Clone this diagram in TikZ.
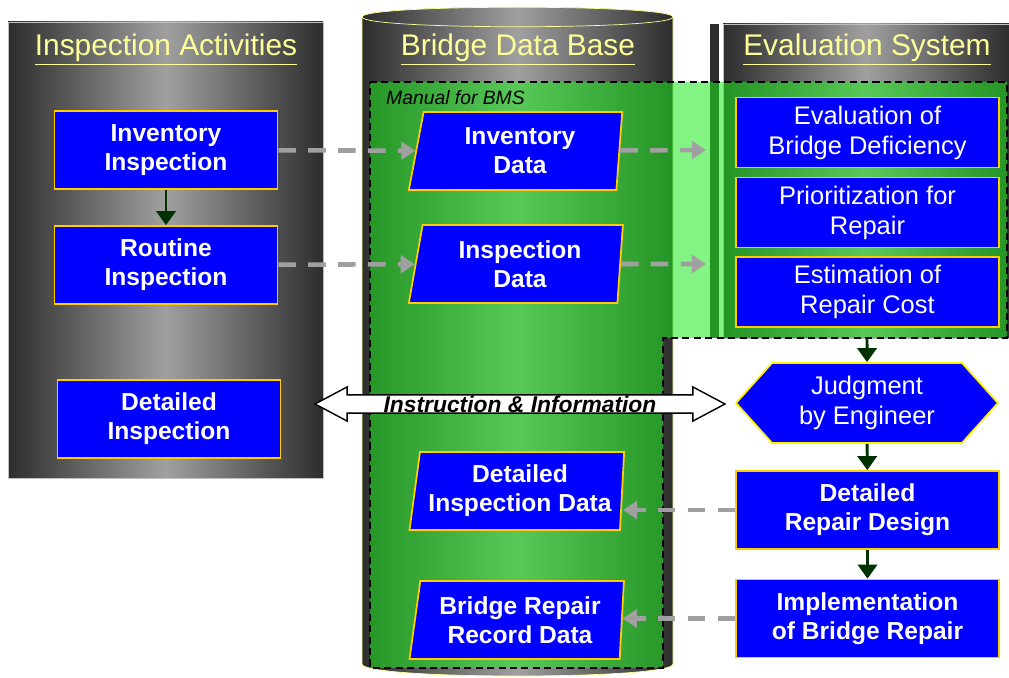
\documentclass[tikz,border=0pt]{standalone}
\usepackage{fontspec}
\setmainfont{Liberation Sans}
\usepackage{xcolor}
\usepackage{tikz}
\usetikzlibrary{
    positioning,
    arrows.meta,
    shapes.geometric,
    shapes.symbols,
    shapes.arrows,
}
\definecolor{boxblue}{RGB}{0,0,255}
\definecolor{boxedge}{RGB}{255,204,0}
\definecolor{titleyellow}{RGB}{255,255,153}
\definecolor{paneldark}{RGB}{45,45,45}
\definecolor{panellight}{RGB}{160,160,160}
\definecolor{flowgreen}{RGB}{0,50,0}
\definecolor{linkgray}{RGB}{160,160,160}
\definecolor{bmsgreen}{RGB}{30,235,30}
\tikzset{
    % Panel styles
    panel/.style={left color=paneldark, right color=paneldark, middle color=panellight,
                  draw=gray!50, line width=0.4pt},
    panel title/.style={text=titleyellow, font=\fontsize{17}{20}\selectfont},
    % Box styles
    task box/.style={rectangle, draw=boxedge, line width=1pt, fill=boxblue, text=white,
                     align=center, inner sep=1pt, minimum width=4.46cm, minimum height=1.56cm,
                     font=\fontsize{14}{16.5}\selectfont\bfseries},
    eval box/.style={task box, minimum width=5.26cm, minimum height=1.4cm,
                     font=\fontsize{14.5}{17}\selectfont},
    data box/.style={task box, trapezium, trapezium left angle=80, trapezium right angle=94,
                     trapezium stretches=true, minimum width=4.3cm},
    judge box/.style={task box, signal, signal to=west and east, signal pointer angle=96,
                      draw=yellow, minimum width=5.24cm, minimum height=1.6cm,
                      font=\fontsize{14.5}{17}\selectfont},
    % Arrow styles
    flow arrow/.style={-{Triangle[length=8pt, width=11pt]}, flowgreen, line width=1.7pt},
    link arrow/.style={-{Triangle[length=8pt, width=10pt]}, linkgray, line width=2.6pt,
                       dash pattern=on 10pt off 7pt},
}

\begin{document}
\begin{tikzpicture}[x=0.02cm, y=-0.02cm,
    bms/.style={fill=bmsgreen, fill opacity=0.55, draw=black, line width=0.9pt,
                dash pattern=on 4pt off 2.5pt},
    info arrow/.style={double arrow, draw=black, fill=white, line width=0.8pt,
                       double arrow head extend=0.16cm, double arrow tip angle=56,
                       minimum height=8.2cm, minimum width=0.44cm, inner sep=0pt,
                       font=\fontsize{13}{15}\selectfont\bfseries\itshape},
]
    \useasboundingbox (0,0) rectangle (1009,678);

    % Inspection column
    \path[panel] (8,22) rectangle (323,478);
    \node[panel title] (insptitle) at (166,50) {\underline{Inspection Activities}};

    % Data base cylinder
    \path[panel, draw=titleyellow] (362,17) -- (362,664)
        .. controls (362,680) and (673,680) .. (673,664) -- (673,17)
        .. controls (673,4) and (362,4) .. (362,17) -- cycle;
    \path[panel, draw=titleyellow] (362,17) .. controls (362,4) and (673,4) .. (673,17)
        .. controls (673,30) and (362,30) .. (362,17) -- cycle;
    \node[panel title] (dbtitle) at (518,50) {\underline{Bridge Data Base}};

    % Evaluation column
    \path[panel] (723,24) rectangle (1009,338);
    \fill[paneldark] (710,24) rectangle (719,338);
    \node[panel title] (evaltitle) at (867,50) {\underline{Evaluation System}};

    % Manual for BMS
    \path[bms] (370,82) -- (1007,82) -- (1007,338) -- (663,338) -- (663,668)
        -- (370,668) -- cycle;
    \node[anchor=west, font=\fontsize{11}{13}\selectfont\itshape] (manual) at (380,98)
        {Manual for BMS};

    % Inspections
    \node[task box] (invinsp) at (166,150) {Inventory\\Inspection};
    \node[task box] (rouinsp) at (166,265) {Routine\\Inspection};
    \node[task box] (detinsp) at (169,419) {Detailed\\Inspection};

    % Stored data
    \node[data box] (invdata) at (520,151) {Inventory\\Data};
    \node[data box] (inspdata) at (520,264) {Inspection\\Data};
    \node[data box] (detdata) at (520,491) {Detailed\\Inspection Data};
    \node[data box] (recdata) at (520,620) {Bridge Repair\\Record Data};

    % Evaluation
    \node[eval box] (deficiency) at (867.5,132.5) {Evaluation of\\Bridge Deficiency};
    \node[eval box] (priority) at (867.5,212.5) {Prioritization for\\Repair};
    \node[eval box] (cost) at (867.5,292) {Estimation of\\Repair Cost};
    \coordinate (evalin1) at (706,150);
    \coordinate (evalin2) at (706,264);
    \coordinate (evalout) at (867,338);

    % Repair
    \node[judge box] (judge) at (867,403) {Judgment\\by Engineer};
    \node[task box, minimum width=5.26cm] (design) at (867.5,510) {Detailed\\Repair Design};
    \node[task box, minimum width=5.26cm] (repair) at (867.5,618.5)
        {Implementation\\of Bridge Repair};

    % Instruction arrow
    \node[info arrow] (info) at (520,404) {Instruction \& Information};

    % Arrows
    \draw[flow arrow] (invinsp) -- (rouinsp);
    \draw[flow arrow] (evalout) -- (judge);
    \draw[flow arrow] (judge) -- (design);
    \draw[flow arrow] (design) -- (repair);
    \draw[link arrow] (invinsp) -- (invdata);
    \draw[link arrow] (rouinsp) -- (inspdata);
    \draw[link arrow] (invdata) -- (evalin1);
    \draw[link arrow] (inspdata) -- (evalin2);
    \draw[link arrow] (design.west) -- (design.west -| detdata.east);
    \draw[link arrow] (repair.west) -- (repair.west -| recdata.east);
\end{tikzpicture}
\end{document}
